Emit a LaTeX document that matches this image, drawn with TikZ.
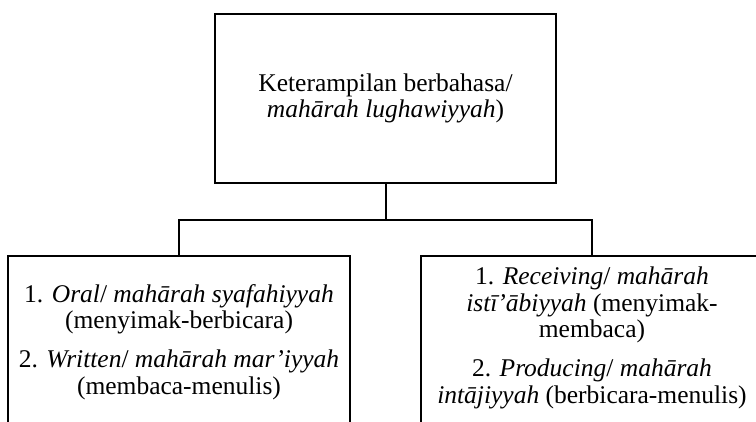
\documentclass[tikz,border=0pt]{standalone}
\usepackage{fontspec}
\setmainfont{Liberation Serif}
\usetikzlibrary{positioning}

\begin{document}
\begin{tikzpicture}[
    x=1pt, y=1pt,
    box/.style={draw, line width=2pt, inner sep=0pt, minimum width=342pt, minimum height=185pt, anchor=north},
    txt/.style={align=center, inner sep=0pt, font=\fontsize{25.5}{26.5}\selectfont},
    link/.style={line width=2pt}
]
\useasboundingbox (0,0) rectangle (756,-421);
\node[box, txt, minimum width=341pt, minimum height=169pt, anchor=center] (skill) at (385.5,-98.5)
    {Keterampilan berbahasa/\\\textit{mahārah lughawiyyah})};
\node[box] (oral) at (179,-255) {};
\node[box] (receive) at (592,-255) {};
\node[txt, anchor=north, below=29pt of oral.north] (oraltext)
    {1. \textit{Oral}/ \textit{mahārah syafahiyyah}\\(menyimak-berbicara)\\[12.5pt]
     2. \textit{Written}/ \textit{mahārah mar’iyyah}\\(membaca-menulis)};
\node[txt, anchor=north, below=12pt of receive.north] (receivetext)
    {1. \textit{Receiving}/ \textit{mahārah}\\\textit{istī’ābiyyah} (menyimak-\\membaca)\\[12.5pt]
     2. \textit{Producing}/ \textit{mahārah}\\\textit{intājiyyah} (berbicara-menulis)};
\coordinate (split) at (385.5,-220);
\draw[link] (skill.south) -- (split);
\draw[link] (oral.north) |- (split) -| (receive.north);
\end{tikzpicture}
\end{document}
